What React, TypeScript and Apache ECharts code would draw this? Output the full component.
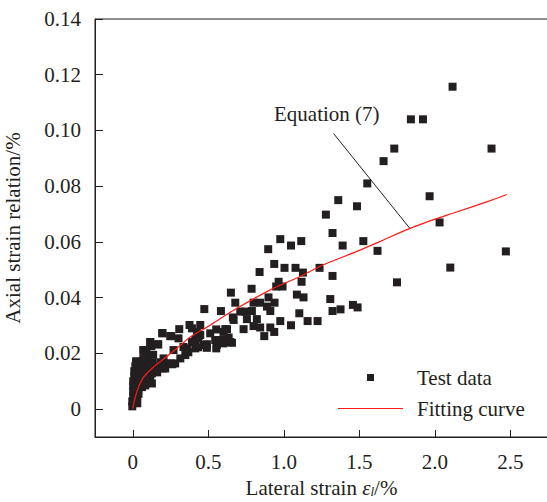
import React, { useEffect, useRef } from "react";
import * as echarts from "echarts";

const xTickValues = [0, 0.5, 1.0, 1.5, 2.0, 2.5];
const yTickValues = [0, 0.02, 0.04, 0.06, 0.08, 0.1, 0.12, 0.14];

const outlierPoints: number[][] = [
  [2.118, 0.1157], [1.842, 0.104], [1.922, 0.104], [2.376, 0.0935], [1.732, 0.0935],
  [1.661, 0.089], [1.553, 0.081], [1.966, 0.0764], [1.361, 0.075], [1.485, 0.0728],
  [1.279, 0.0698], [2.032, 0.067], [2.103, 0.0508], [2.471, 0.0566], [1.75, 0.0455],
  [1.621, 0.0568],
];

const midPoints: number[][] = [
  [1.323, 0.0632], [0.977, 0.061], [1.048, 0.0587], [1.116, 0.0603], [1.39, 0.0587],
  [1.527, 0.0603], [0.897, 0.0574], [0.937, 0.0521], [1.005, 0.0507], [1.078, 0.0507],
  [1.127, 0.049], [1.237, 0.0507], [0.84, 0.0492], [1.323, 0.0478], [1.118, 0.0457],
  [0.966, 0.0457], [0.95, 0.044], [0.992, 0.044], [0.787, 0.0432], [0.65, 0.0418],
  [0.899, 0.0401], [1.087, 0.0411], [1.131, 0.0401], [1.308, 0.0395], [0.679, 0.0382],
  [0.8, 0.0382], [0.844, 0.0382], [0.939, 0.0382], [0.474, 0.0359], [0.584, 0.0352],
  [0.889, 0.0368], [0.911, 0.0352], [0.712, 0.035], [0.745, 0.035], [0.789, 0.0352],
  [1.103, 0.0344], [1.323, 0.0352], [1.376, 0.0358], [1.458, 0.0374], [1.489, 0.0365],
  [0.663, 0.0329], [0.756, 0.0323], [0.822, 0.0323], [0.977, 0.0316], [1.158, 0.0316],
  [1.224, 0.0316], [1.048, 0.0301], [0.624, 0.0287], [0.734, 0.0287], [0.8, 0.0298],
  [0.844, 0.0293], [0.911, 0.0293], [0.937, 0.0277], [0.871, 0.0262], [0.392, 0.029],
  [0.447, 0.0266], [0.513, 0.0272], [0.553, 0.0286], [0.591, 0.0248], [0.635, 0.0257],
  [0.657, 0.0238], [0.414, 0.0248], [0.491, 0.0233], [0.557, 0.023],
];

const lowerPoints: number[][] = [
  [0.376, 0.0302], [0.308, 0.0287], [0.255, 0.0262], [0.197, 0.0272], [0.116, 0.0241],
  [0.167, 0.0232], [0.072, 0.0212], [0.089, 0.02], [0.023, 0.0169], [0.27, 0.0212],
  [0.336, 0.0223], [0.392, 0.0241], [0.436, 0.0254], [0.204, 0.0182], [0.281, 0.0164],
  [0.16, 0.0151], [0.127, 0.0128], [0.094, 0.0103], [0.061, 0.0079], [0.038, 0.0055],
  [0.226, 0.0164], [0.348, 0.0194], [0.414, 0.0218], [0.469, 0.023], [0.546, 0.0248],
  [0.601, 0.0277], [0.668, 0.032], [0.613, 0.0287], [0.553, 0.0218], [0.491, 0.022],
  [0.601, 0.0236], [0.646, 0.0241], [0.303, 0.0254], [0.359, 0.0218], [0.447, 0.0302],
  [0.425, 0.0277], [0.253, 0.0164], [0.2, 0.0146], [0.127, 0.0092],
];

const originPoints: number[][] = [
  [-0.003, 0.001], [-0.003, 0.0028], [0.003, 0.0046], [0.003, 0.0064], [0.003, 0.0082],
  [0.003, 0.01], [0.01, 0.0118], [0.01, 0.0136], [0.017, 0.0154], [0.023, 0.0172],
  [0.03, 0.0021], [0.03, 0.0046], [0.036, 0.0067], [0.043, 0.0089], [0.05, 0.0111],
  [0.063, 0.0132], [0.076, 0.0154], [0.096, 0.0175], [0.043, 0.0139], [0.056, 0.0161],
  [0.07, 0.0183], [0.03, 0.0157], [0.083, 0.0103], [0.116, 0.0132], [0.149, 0.0154],
  [0.182, 0.0168], [0.129, 0.0168], [0.089, 0.0204], [0.123, 0.0226], [0.169, 0.0233],
  [0.07, 0.0211], [0.116, 0.024], [0.195, 0.0273], [0.248, 0.0262], [0.017, 0.0039],
  [0.023, 0.0111], [0.083, 0.0085], [0.116, 0.011], [0.162, 0.0132], [0.215, 0.0146],
  [0.262, 0.0161], [0.315, 0.0182], [0.368, 0.0204], [0.434, 0.0222],
  [0.01, 0.0025], [0.015, 0.0075], [0.02, 0.0095], [0.025, 0.013], [0.04, 0.0118],
  [0.05, 0.0145], [0.06, 0.017], [0.065, 0.0105], [0.1, 0.0145], [0.135, 0.0195],
];

const fittingCurve: number[][] = [
  [0, 0.0002], [0.017, 0.0043], [0.038, 0.0079], [0.072, 0.0115], [0.127, 0.0146],
  [0.193, 0.0175], [0.303, 0.0223], [0.381, 0.0259], [0.5, 0.0297], [0.668, 0.0355],
  [0.911, 0.0428], [1.109, 0.0476], [1.264, 0.0518], [1.485, 0.0566], [1.639, 0.0602],
  [1.816, 0.0644], [1.992, 0.068], [2.125, 0.0704], [2.368, 0.0748], [2.478, 0.077],
];

const annotationLine = [[1.33, 0.0989], [1.833, 0.065]];
const annotationLabelPos = [1.285, 0.1058];

const FONT = "Liberation Serif";
const INK = "#231f20";
const RED = "#ff1a1a";
const FS = 21;

export default function App() {
  const ref = useRef<HTMLDivElement>(null);
  useEffect(() => {
    if (!ref.current) return;
    const chart = echarts.init(ref.current, null, { renderer: "svg" });
    const testData = [...outlierPoints, ...midPoints, ...lowerPoints, ...originPoints];
    chart.setOption({
      animation: false,
      backgroundColor: "#fff",
      textStyle: { fontFamily: FONT, color: INK },
      grid: {
        left: 95, top: 19, width: 453, height: 418,
        outerBoundsMode: "none",
        containLabel: false,
        show: true, borderColor: INK, borderWidth: 1, backgroundColor: "transparent",
      },
      legend: {
        orient: "vertical",
        left: 333,
        top: 362,
        itemWidth: 65,
        itemHeight: 7,
        itemGap: 10,
        textStyle: { fontFamily: FONT, fontSize: FS, color: INK, lineHeight: 21, padding: [0, 0, 0, 9] },
        data: [
          { name: "Test data", icon: "path://M0,0L1,0L1,1L0,1Z" },
          { name: "Fitting curve", icon: "path://M0,0L65,0L65,1.2L0,1.2Z" },
        ],
      },
      xAxis: {
        type: "value",
        min: -0.25,
        max: 2.75,
        name: "Lateral strain {e|ε}{s|l}/%",
        nameLocation: "middle",
        nameGap: 40,
        nameTextStyle: {
          fontFamily: FONT, fontSize: FS, color: INK,
          rich: {
            e: { fontFamily: FONT, fontSize: FS, fontStyle: "italic", color: INK },
            s: { fontFamily: FONT, fontSize: 13, fontStyle: "italic", color: INK, padding: [8, 0, 0, 0] },
          },
        },
        axisLine: { show: true, onZero: false, lineStyle: { color: INK, width: 1 } },
        axisTick: { show: true, inside: true, length: 7, lineStyle: { color: INK }, customValues: xTickValues },
        axisLabel: {
          fontFamily: FONT, fontSize: FS, color: INK, margin: 14,
          customValues: xTickValues,
          formatter: (v: number) => (v === 0 ? "0" : v.toFixed(1)),
        },
        splitLine: { show: false },
      },
      yAxis: {
        type: "value",
        min: -0.01,
        max: 0.14,
        name: "Axial strain relation/%",
        nameLocation: "middle",
        nameGap: 72,
        nameTextStyle: { fontFamily: FONT, fontSize: FS, color: INK },
        axisLine: { show: true, onZero: false, lineStyle: { color: INK, width: 1 } },
        axisTick: { show: true, inside: true, length: 8, lineStyle: { color: INK }, customValues: yTickValues },
        axisLabel: {
          fontFamily: FONT, fontSize: FS, color: INK, margin: 14,
          customValues: yTickValues,
          formatter: (v: number) => (Math.abs(v) < 1e-9 ? "0" : v.toFixed(2)),
        },
        splitLine: { show: false },
      },
      series: [
        {
          name: "Test data",
          type: "scatter",
          symbol: "rect",
          symbolSize: 8,
          itemStyle: { color: INK, opacity: 1 },
          data: testData,
          z: 2,
        },
        {
          name: "Fitting curve",
          type: "line",
          symbol: "none",
          smooth: 0.3,
          lineStyle: { color: RED, width: 1.2 },
          itemStyle: { color: RED },
          data: fittingCurve,
          z: 3,
          markLine: {
            silent: true,
            symbol: ["none", "none"],
            label: { show: false },
            lineStyle: { color: INK, width: 1, type: "solid" },
            data: [[{ coord: annotationLine[0] }, { coord: annotationLine[1] }]],
          },
          markPoint: {
            silent: true,
            symbol: "circle",
            symbolSize: 0,
            label: {
              show: true, position: "inside", formatter: "Equation (7)",
              fontFamily: FONT, fontSize: FS, color: INK,
            },
            data: [{ coord: annotationLabelPos }],
          },
        },
      ],
    });
    return () => chart.dispose();
  }, []);
  return <div ref={ref} style={{ position: "fixed", left: 0, top: 0, width: 547, height: 502 }} />;
}
